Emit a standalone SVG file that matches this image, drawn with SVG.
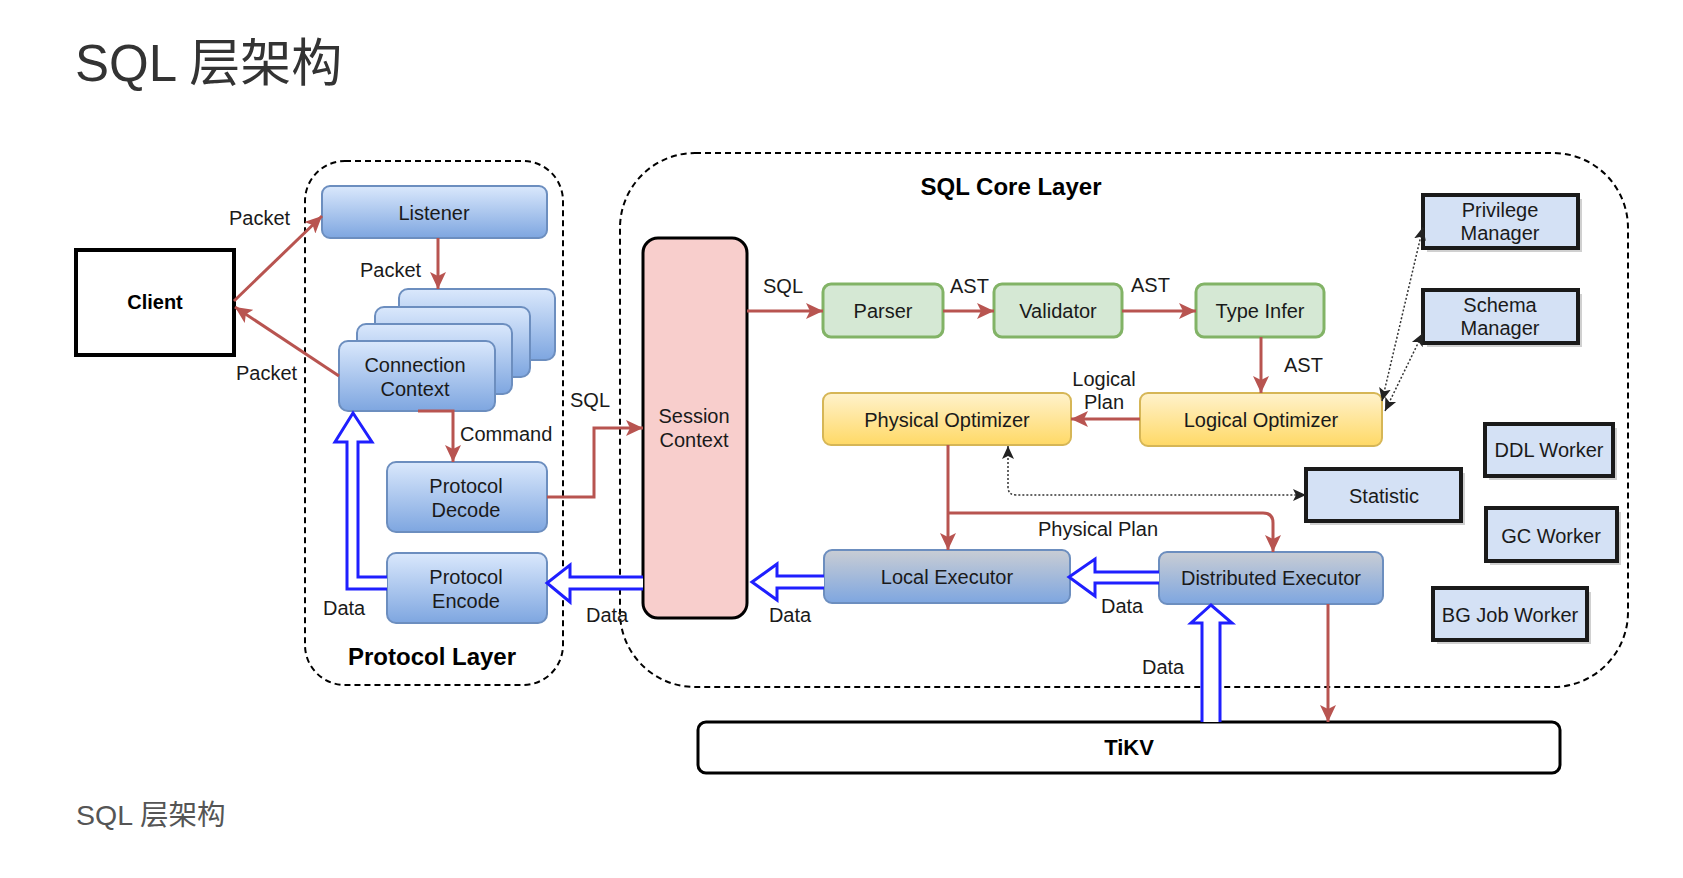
<svg xmlns="http://www.w3.org/2000/svg" width="1683" height="878" viewBox="0 0 1683 878">
<style>
text{font-family:"Liberation Sans","Noto Sans CJK SC",sans-serif;font-size:20px;fill:#1a1a1a}
.c{text-anchor:middle}
.b{font-weight:bold;fill:#000}
.blue{fill:url(#gBlue);stroke:#6c8ebf;stroke-width:2}
.exec{fill:url(#gExec);stroke:#6c8ebf;stroke-width:2}
.yel{fill:url(#gYel);stroke:#d6b656;stroke-width:2}
.grn{fill:#d5e8d4;stroke:#82b366;stroke-width:3}
.lb{fill:#d4e1f5;stroke:#1a1a1a;stroke-width:4}
.sh{fill:#b0b0b0;opacity:0.6}
.dash{fill:none;stroke:#000;stroke-width:2;stroke-dasharray:6 4}
.red{fill:none;stroke:#b85450;stroke-width:3;marker-end:url(#ar)}
.hol{fill:#fff;stroke:#1f1fff;stroke-width:3;stroke-linejoin:miter}
.dot{fill:none;stroke:#333;stroke-width:1.5;stroke-dasharray:2 2;marker-start:url(#ak);marker-end:url(#ak)}
</style>
<defs>
<linearGradient id="gBlue" x1="0" y1="0" x2="0" y2="1"><stop offset="0" stop-color="#dae8fc"/><stop offset="1" stop-color="#7ea6e0"/></linearGradient>
<linearGradient id="gExec" x1="0" y1="0" x2="0" y2="1"><stop offset="0" stop-color="#c9cdd4"/><stop offset="1" stop-color="#7ea6e0"/></linearGradient>
<linearGradient id="gYel" x1="0" y1="0" x2="0" y2="1"><stop offset="0" stop-color="#fff2cc"/><stop offset="1" stop-color="#ffd966"/></linearGradient>
<marker id="ar" markerUnits="userSpaceOnUse" markerWidth="20" markerHeight="16" refX="17" refY="8" orient="auto"><path d="M0,0 L17,8 L0,16 L4,8 z" fill="#b85450"/></marker>
<marker id="ak" markerUnits="userSpaceOnUse" markerWidth="14" markerHeight="14" refX="13" refY="7" orient="auto-start-reverse"><path d="M0,1 L13,7 L0,13 L3,7 z" fill="#222"/></marker>
</defs>

<text x="75" y="81" style="font-size:51px;fill:#333">SQL 层架构</text>
<text x="76" y="825" style="font-size:28.5px;fill:#555">SQL 层架构</text>

<g id="containers">
<rect x="305" y="161" width="258" height="524" rx="40" class="dash"/>
<rect x="620" y="153" width="1008" height="534" rx="75" class="dash"/>
<text x="432" y="665" class="c b" style="font-size:24px">Protocol Layer</text>
<text x="1011" y="195" class="c b" style="font-size:24px">SQL Core Layer</text>
</g>

<g id="client">
<rect x="76" y="250" width="158" height="105" fill="#fff" stroke="#000" stroke-width="4"/>
<text x="155" y="309" class="c b">Client</text>
</g>
<g id="listener">
<rect x="322" y="186" width="225" height="52" rx="8" class="blue"/>
<text x="434" y="220" class="c">Listener</text>
</g>
<g id="connection-context">
<rect x="399" y="289" width="156" height="71" rx="9" class="blue"/>
<rect x="375" y="307" width="155" height="70" rx="9" class="blue"/>
<rect x="357" y="324" width="155" height="70" rx="9" class="blue"/>
<rect x="339" y="341" width="156" height="70" rx="9" class="blue"/>
<text x="415" y="372" class="c">Connection</text>
<text x="415" y="396" class="c">Context</text>
</g>
<g id="protocol-decode">
<rect x="387" y="462" width="160" height="70" rx="9" class="blue"/>
<text x="466" y="493" class="c">Protocol</text>
<text x="466" y="517" class="c">Decode</text>
</g>
<g id="protocol-encode">
<rect x="387" y="553" width="160" height="70" rx="9" class="blue"/>
<text x="466" y="584" class="c">Protocol</text>
<text x="466" y="608" class="c">Encode</text>
</g>
<g id="session-context">
<rect x="643" y="238" width="104" height="380" rx="15" fill="#f8cecc" stroke="#000" stroke-width="3"/>
<text x="694" y="423" class="c">Session</text>
<text x="694" y="447" class="c">Context</text>
</g>
<g id="parser">
<rect x="823" y="284" width="120" height="53" rx="8" class="grn"/>
<text x="883" y="318" class="c">Parser</text>
</g>
<g id="validator">
<rect x="994" y="284" width="128" height="53" rx="8" class="grn"/>
<text x="1058" y="318" class="c">Validator</text>
</g>
<g id="type-infer">
<rect x="1196" y="284" width="128" height="53" rx="8" class="grn"/>
<text x="1260" y="318" class="c">Type Infer</text>
</g>
<g id="logical-optimizer">
<rect x="1140" y="393" width="242" height="53" rx="8" class="yel"/>
<text x="1261" y="427" class="c">Logical Optimizer</text>
</g>
<g id="physical-optimizer">
<rect x="823" y="393" width="248" height="52" rx="8" class="yel"/>
<text x="947" y="427" class="c">Physical Optimizer</text>
</g>
<g id="local-executor">
<rect x="824" y="550" width="246" height="53" rx="8" class="exec"/>
<text x="947" y="584" class="c">Local Executor</text>
</g>
<g id="distributed-executor">
<rect x="1159" y="552" width="224" height="52" rx="8" class="exec"/>
<text x="1271" y="585" class="c">Distributed Executor</text>
</g>
<g id="privilege-manager">
<rect x="1427" y="199" width="155" height="53" class="sh"/>
<rect x="1423" y="195" width="155" height="53" class="lb"/>
<text x="1500" y="217" class="c">Privilege</text>
<text x="1500" y="240" class="c">Manager</text>
</g>
<g id="schema-manager">
<rect x="1427" y="294" width="155" height="53" class="sh"/>
<rect x="1423" y="290" width="155" height="53" class="lb"/>
<text x="1500" y="312" class="c">Schema</text>
<text x="1500" y="335" class="c">Manager</text>
</g>
<g id="ddl-worker">
<rect x="1489" y="428" width="128" height="52" class="sh"/>
<rect x="1485" y="424" width="128" height="52" class="lb"/>
<text x="1549" y="457" class="c">DDL Worker</text>
</g>
<g id="statistic">
<rect x="1310" y="473" width="155" height="52" class="sh"/>
<rect x="1306" y="469" width="155" height="52" class="lb"/>
<text x="1384" y="503" class="c">Statistic</text>
</g>
<g id="gc-worker">
<rect x="1490" y="512" width="131" height="53" class="sh"/>
<rect x="1486" y="508" width="131" height="53" class="lb"/>
<text x="1551" y="543" class="c">GC Worker</text>
</g>
<g id="bg-job-worker">
<rect x="1437" y="592" width="154" height="52" class="sh"/>
<rect x="1433" y="588" width="154" height="52" class="lb"/>
<text x="1510" y="622" class="c">BG Job Worker</text>
</g>
<g id="tikv">
<rect x="698" y="722" width="862" height="51" rx="8" fill="#fff" stroke="#000" stroke-width="3"/>
<text x="1129" y="755" class="c b" style="font-size:22px">TiKV</text>
</g>

<g id="connectors">
<path d="M234,301 L322,216" class="red"/>
<path d="M339,376 L235,307" class="red"/>
<path d="M438,238 L438,289" class="red"/>
<path d="M418,411 L453,411 L453,462" class="red"/>
<path d="M547,497 L594,497 L594,428 L643,428" class="red"/>
<path d="M747,311 L823,311" class="red"/>
<path d="M943,311 L994,311" class="red"/>
<path d="M1122,311 L1196,311" class="red"/>
<path d="M1261,337 L1261,393" class="red"/>
<path d="M1140,419 L1071,419" class="red"/>
<path d="M948,445 L948,550" class="red"/>
<path d="M948,513 L1263,513 Q1273,513 1273,523 L1273,552" class="red"/>
<path d="M1328,604 L1328,722" class="red"/>
<path d="M1008,446 L1008,487 Q1008,495 1016,495 L1306,495" class="dot"/>
<path d="M1382,401 L1423,227" class="dot"/>
<path d="M1385,411 L1423,333" class="dot"/>
<path d="M643,577 L570,577 L570,565 L547,583 L570,602 L570,589 L643,589" class="hol"/>
<path d="M824,576 L777,576 L777,564 L752,582 L777,600 L777,588 L824,588" class="hol"/>
<path d="M1159,572 L1095,572 L1095,559 L1069,577 L1095,596 L1095,583 L1159,583" class="hol"/>
<path d="M1202,722 L1202,623 L1191,623 L1211,605 L1232,623 L1220,623 L1220,722" class="hol"/>
<path d="M387,589 L347,589 L347,442 L335,442 L353,413 L372,442 L358,442 L358,577 L387,577" class="hol"/>
</g>

<g id="labels">
<text x="229" y="225">Packet</text>
<text x="360" y="277">Packet</text>
<text x="236" y="380">Packet</text>
<text x="460" y="441">Command</text>
<text x="570" y="407">SQL</text>
<text x="323" y="615">Data</text>
<text x="586" y="622">Data</text>
<text x="763" y="293">SQL</text>
<text x="950" y="293">AST</text>
<text x="1131" y="292">AST</text>
<text x="1284" y="372">AST</text>
<text x="1104" y="386" class="c">Logical</text>
<text x="1104" y="409" class="c">Plan</text>
<text x="1098" y="536" class="c">Physical Plan</text>
<text x="790" y="622" class="c">Data</text>
<text x="1101" y="613">Data</text>
<text x="1142" y="674">Data</text>
</g>
</svg>
